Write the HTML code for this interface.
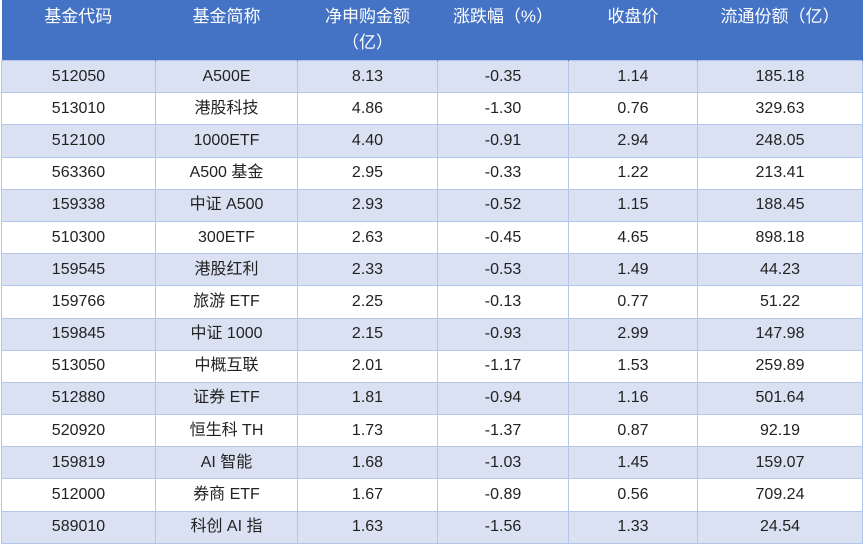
<!DOCTYPE html><html><head><meta charset="utf-8"><style>
body{margin:0;background:#fff;width:865px;height:550px;overflow:hidden}
table{position:absolute;left:1px;top:0;border-collapse:collapse;table-layout:fixed;width:861px;font-family:"Liberation Sans","Noto Sans CJK SC",sans-serif}
th{background:#4472C4;color:#fff;font-weight:normal;font-size:17px;height:56px;vertical-align:top;padding:4px 0 0;line-height:26px;border-right:1px solid #4472C4}
td{height:31.2px;padding:0;text-align:center;font-size:16px;line-height:20px;color:#222;border:1px solid #B4C6E7;vertical-align:middle}
tr:nth-child(even) td{background:#D9E1F2}
</style></head><body><table>
<colgroup><col style="width:154px"><col style="width:142px"><col style="width:140px"><col style="width:131px"><col style="width:129px"><col style="width:165px"></colgroup>
<tr><th>基金代码</th><th>基金简称</th><th>净申购金额<br>（亿）</th><th>涨跌幅（%）</th><th>收盘价</th><th>流通份额（亿）</th></tr>
<tr><td>512050</td><td>A500E</td><td>8.13</td><td>-0.35</td><td>1.14</td><td>185.18</td></tr>
<tr><td>513010</td><td>港股科技</td><td>4.86</td><td>-1.30</td><td>0.76</td><td>329.63</td></tr>
<tr><td>512100</td><td>1000ETF</td><td>4.40</td><td>-0.91</td><td>2.94</td><td>248.05</td></tr>
<tr><td>563360</td><td>A500 基金</td><td>2.95</td><td>-0.33</td><td>1.22</td><td>213.41</td></tr>
<tr><td>159338</td><td>中证 A500</td><td>2.93</td><td>-0.52</td><td>1.15</td><td>188.45</td></tr>
<tr><td>510300</td><td>300ETF</td><td>2.63</td><td>-0.45</td><td>4.65</td><td>898.18</td></tr>
<tr><td>159545</td><td>港股红利</td><td>2.33</td><td>-0.53</td><td>1.49</td><td>44.23</td></tr>
<tr><td>159766</td><td>旅游 ETF</td><td>2.25</td><td>-0.13</td><td>0.77</td><td>51.22</td></tr>
<tr><td>159845</td><td>中证 1000</td><td>2.15</td><td>-0.93</td><td>2.99</td><td>147.98</td></tr>
<tr><td>513050</td><td>中概互联</td><td>2.01</td><td>-1.17</td><td>1.53</td><td>259.89</td></tr>
<tr><td>512880</td><td>证券 ETF</td><td>1.81</td><td>-0.94</td><td>1.16</td><td>501.64</td></tr>
<tr><td>520920</td><td>恒生科 TH</td><td>1.73</td><td>-1.37</td><td>0.87</td><td>92.19</td></tr>
<tr><td>159819</td><td>AI 智能</td><td>1.68</td><td>-1.03</td><td>1.45</td><td>159.07</td></tr>
<tr><td>512000</td><td>券商 ETF</td><td>1.67</td><td>-0.89</td><td>0.56</td><td>709.24</td></tr>
<tr><td>589010</td><td>科创 AI 指</td><td>1.63</td><td>-1.56</td><td>1.33</td><td>24.54</td></tr>
</table></body></html>
